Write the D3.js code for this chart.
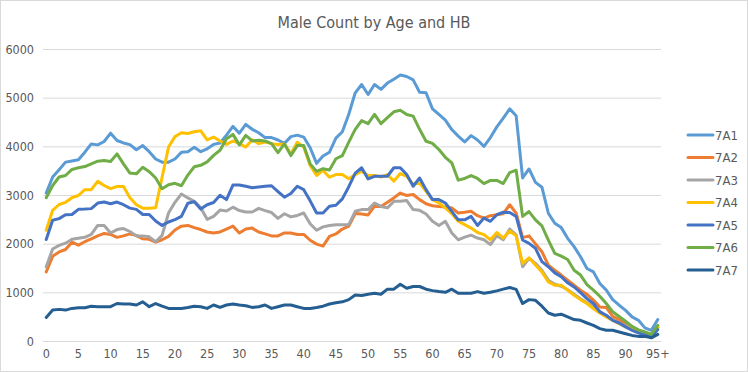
<!DOCTYPE html>
<html>
<head>
<meta charset="utf-8">
<script src="https://cdn.jsdelivr.net/npm/d3@7"></script>
<style>
  body { margin: 0; background: #fff; }
  text { font-family: "Liberation Sans Narrow", "DejaVu Sans Condensed", "Liberation Sans", sans-serif; fill: #595959; }
</style>
</head>
<body>
<div id="chart"></div>
<script>
// ages 0..94 and 95+
var ages = d3.range(0, 95).map(String).concat(["95+"]);
var seriesNames = ["7A1", "7A2", "7A3", "7A4", "7A5", "7A6", "7A7"];
var yTicks = [0, 1000, 2000, 3000, 4000, 5000, 6000];

var s7A1 = [3040,3370,3520,3675,3700,3725,3880,4050,4030,4100,4270,4120,4070,4035,3930,4015,3890,3740,3675,3675,
  3740,3880,3890,3980,3890,3950,4040,4070,4230,4410,4270,4450,4350,4280,4180,4180,4130,4060,4200,4230,
  4190,3970,3650,3800,3880,4170,4300,4660,5100,5270,5065,5270,5170,5300,5380,5465,5435,5365,5110,5100,
  4770,4655,4540,4345,4210,4090,4220,4130,4000,4180,4400,4580,4770,4630,3350,3535,3260,3160,2625,2420,
  2330,2110,1940,1730,1490,1420,1180,1045,850,735,630,495,425,270,220,440];
var s7A2 = [1420,1740,1830,1880,2030,1970,2040,2100,2160,2210,2190,2130,2160,2200,2170,2100,2090,2030,2080,2150,
  2280,2360,2375,2330,2290,2240,2220,2240,2300,2360,2220,2300,2320,2240,2200,2160,2160,2220,2220,2190,
  2190,2070,1990,1950,2150,2200,2300,2360,2620,2610,2590,2770,2765,2850,2940,3040,2990,3010,2905,2820,
  2780,2765,2755,2735,2630,2645,2665,2575,2525,2575,2595,2615,2800,2625,2125,2160,1995,1835,1560,1455,
  1355,1250,1145,1045,960,840,700,690,505,440,355,275,205,165,115,275];
var s7A3 = [1525,1890,1965,2010,2090,2110,2130,2190,2375,2375,2220,2290,2310,2250,2160,2160,2140,2040,2170,2630,
  2850,3020,2940,2870,2740,2500,2560,2690,2670,2750,2680,2650,2650,2725,2680,2640,2520,2615,2550,2580,
  2630,2410,2275,2345,2375,2390,2390,2390,2665,2700,2700,2835,2765,2735,2870,2870,2885,2700,2685,2610,
  2460,2375,2460,2220,2080,2135,2175,2115,2080,1980,2165,2080,2300,2180,1525,1700,1595,1455,1250,1165,
  1125,1055,960,870,785,700,610,505,440,370,315,255,205,170,130,275];
var s7A4 = [2275,2685,2805,2850,2945,2990,3110,3110,3280,3195,3130,3175,3175,2945,2800,2730,2730,2740,3365,3985,
  4200,4280,4265,4300,4320,4135,4190,4110,4040,4110,4055,3985,4135,4055,4090,4055,4040,4050,3845,4085,
  3985,3605,3400,3505,3365,3420,3420,3335,3420,3490,3400,3400,3370,3420,3285,3440,3385,3215,3250,3075,
  2905,2835,2735,2615,2460,2390,2320,2230,2185,2080,2230,2115,2260,2160,1595,1710,1560,1420,1215,1145,
  1145,1045,940,850,770,665,575,495,425,355,290,235,185,150,95,290];
var s7A5 = [2085,2480,2515,2595,2600,2705,2710,2720,2835,2855,2820,2855,2800,2730,2705,2600,2600,2465,2375,2445,
  2495,2560,2830,2860,2710,2800,2845,2995,2905,3205,3205,3180,3150,3165,3180,3190,3070,2955,3030,3180,
  3110,2880,2630,2630,2770,2790,2920,3170,3450,3560,3330,3385,3385,3385,3560,3560,3420,3180,3350,3110,
  2905,2905,2835,2665,2490,2490,2560,2375,2525,2460,2595,2645,2640,2560,2075,2005,1905,1630,1525,1400,
  1320,1195,1110,995,870,770,600,530,425,370,290,220,165,130,85,235];
var s7A6 = [2945,3195,3370,3400,3525,3560,3585,3640,3695,3710,3690,3845,3640,3450,3435,3570,3480,3350,3130,3210,
  3240,3190,3410,3580,3610,3680,3815,3920,4155,4245,4030,4225,4110,4125,4110,4055,3870,4050,3810,4015,
  4015,3640,3485,3540,3515,3745,3810,4085,4350,4530,4465,4655,4465,4590,4710,4740,4655,4620,4350,4105,
  4060,3935,3775,3660,3305,3340,3400,3340,3235,3300,3300,3235,3460,3510,2560,2660,2490,2365,2075,1800,
  1745,1675,1455,1355,1160,1045,920,770,600,505,405,300,230,185,135,320];
var s7A7 = [485,635,650,635,670,685,685,715,705,705,705,770,760,760,740,805,705,770,715,670,
  670,670,690,715,705,670,740,690,740,760,740,725,690,705,740,670,705,740,740,705,
  670,670,690,715,760,785,805,850,945,935,960,980,960,1065,1065,1165,1085,1120,1120,1065,
  1035,1015,1000,1065,980,980,980,1015,980,1000,1030,1065,1100,1060,770,850,835,715,575,530,
  550,495,440,425,370,320,255,220,220,185,150,115,95,95,65,135];

var colors = ["#5B9BD5", "#ED7D31", "#A5A5A5", "#FFC000", "#4472C4", "#70AD47", "#255E91"];
var allSeries = [s7A1, s7A2, s7A3, s7A4, s7A5, s7A6, s7A7];

var W = 748, H = 372;
var plot = {left: 43, right: 661, top: 49, bottom: 341};

var svg = d3.select("#chart").append("svg")
  .attr("width", W).attr("height", H);

svg.append("rect").attr("x", 0.5).attr("y", 0.5)
  .attr("width", W - 1).attr("height", H - 1)
  .attr("fill", "#fff").attr("stroke", "#d9d9d9");

// title
svg.append("text")
  .attr("x", 374).attr("y", 28)
  .attr("text-anchor", "middle")
  .style("font-size", "16px")
  .text("Male Count by Age and HB");

var x = d3.scaleBand().domain(ages).range([plot.left, plot.right]).padding(0);
var y = d3.scaleLinear().domain([0, 6000]).range([plot.bottom, plot.top]);

// y axis + gridlines
var yAxis = svg.append("g")
  .attr("transform", "translate(" + plot.left + ",0)")
  .call(d3.axisLeft(y).tickValues(yTicks).tickFormat(d3.format("d"))
    .tickSize(-(plot.right - plot.left)).tickPadding(9));
yAxis.select(".domain").remove();
yAxis.selectAll(".tick line").attr("stroke", "#d9d9d9");
yAxis.selectAll(".tick text").style("font-size", "12.5px").attr("fill", "#595959");

// x axis
var xAxis = svg.append("g")
  .attr("transform", "translate(0," + plot.bottom + ")")
  .call(d3.axisBottom(x).tickValues(ages.filter(function(d, i) { return i % 5 == 0; })).tickSize(0).tickPadding(8));
xAxis.select(".domain").attr("stroke", "#d9d9d9");
xAxis.selectAll(".tick text").style("font-size", "12.5px").attr("fill", "#595959");

var line = d3.line()
  .x(function(d, i) { return x(ages[i]) + x.bandwidth() / 2; })
  .y(function(d) { return y(d); });

svg.append("g").selectAll("path")
  .data(allSeries)
  .enter().append("path")
    .attr("d", line)
    .attr("fill", "none")
    .attr("stroke", function(d, i) { return colors[i]; })
    .attr("stroke-width", 3)
    .attr("stroke-linejoin", "round")
    .attr("stroke-linecap", "round");

// legend
var legend = svg.append("g").selectAll("g")
  .data(seriesNames)
  .enter().append("g")
    .attr("transform", function(d, i) { return "translate(688," + (135 + i * 22.5) + ")"; });
legend.append("line")
  .attr("x1", 0).attr("x2", 25)
  .attr("stroke", function(d, i) { return colors[i]; })
  .attr("stroke-width", 3).attr("stroke-linecap", "round");
legend.append("text")
  .attr("x", 27).attr("dy", "0.35em")
  .style("font-size", "13px")
  .text(function(d) { return d; });
</script>
</body>
</html>
